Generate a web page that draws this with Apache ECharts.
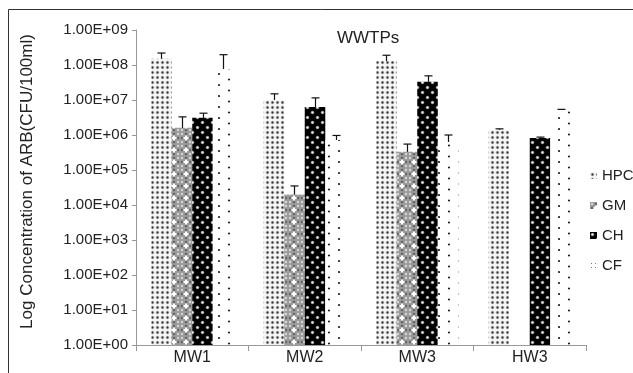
<!DOCTYPE html>
<html>
<head>
<meta charset="utf-8">
<script src="https://cdn.jsdelivr.net/npm/echarts@6/dist/echarts.min.js"></script>
<style>
  html, body { margin: 0; padding: 0; background: #fff; }
  #chart { width: 633px; height: 373px; }
</style>
</head>
<body>
<div id="chart"></div>
<script>
const categories = ['MW1', 'MW2', 'MW3', 'HW3'];
const seriesNames = ['HPC', 'GM', 'CH', 'CF'];

const hpc = [1.5e8, 1.0e7, 1.3e8, 1.4e6];
const hpcErr = [7e7, 5e6, 6e7, 1e5];
const gm = [1.6e6, 2.0e4, 3.3e5, null];
const gmErr = [1.7e6, 1.5e4, 2.2e5, null];
const ch = [3.1e6, 6.3e6, 3.3e7, 8.2e5];
const chErr = [1.1e6, 5.2e6, 1.6e7, 5e4];
const cf = [7.7e7, 7.2e5, 6.3e5, 5.2e6];
const cfErr = [1.2e8, 2.5e5, 3.7e5, 2e5];

const values = [hpc, gm, ch, cf];
const errors = [hpcErr, gmErr, chErr, cfErr];

// pattern tiles for the bar fills
function makeTile(w, h, draw) {
  const c = document.createElement('canvas');
  c.width = w; c.height = h;
  draw(c.getContext('2d'));
  return { image: c, repeat: 'repeat' };
}
function dot(ctx, x, y, r, color) {
  ctx.beginPath();
  ctx.arc(x, y, r, 0, Math.PI * 2);
  ctx.fillStyle = color;
  ctx.fill();
}

const patterns = [
  makeTile(5, 5, (ctx) => {
    ctx.fillStyle = '#f6f6f6'; ctx.fillRect(0, 0, 5, 5);
    dot(ctx, 2.5, 2.5, 1.7, '#aaa');
    dot(ctx, 2.5, 2.5, 0.9, '#333');
  }),
  makeTile(12, 12, (ctx) => {
    ctx.fillStyle = '#9a9a9a'; ctx.fillRect(0, 0, 12, 12);
    for (let i = 0; i < 3; i++) {
      for (let j = 0; j < 3; j++) {
        dot(ctx, i * 4 + 2, j * 4 + 2, 1.2, (i + j) % 2 ? '#666' : '#d6d6d6');
      }
    }
    ctx.fillStyle = '#fff';
    ctx.fillRect(5, 3.5, 2, 5);
    ctx.fillRect(3.5, 5, 5, 2);
  }),
  makeTile(10, 10, (ctx) => {
    ctx.fillStyle = '#000'; ctx.fillRect(0, 0, 10, 10);
    dot(ctx, 2.5, 2.5, 1.8, '#888');
    dot(ctx, 2.5, 2.5, 1.0, '#eee');
    dot(ctx, 7.5, 7.5, 1.8, '#888');
    dot(ctx, 7.5, 7.5, 1.0, '#eee');
  }),
  makeTile(20, 11, (ctx) => {
    ctx.fillStyle = '#fff'; ctx.fillRect(0, 0, 20, 11);
    dot(ctx, 9, 2.5, 1.1, '#222');
    dot(ctx, 19, 8, 1.1, '#222');
  })
];

// CF legend icon is too small for the sparse tile, use a finer one
const cfLegendFill = makeTile(4, 4, (ctx) => {
  ctx.fillStyle = '#fff'; ctx.fillRect(0, 0, 4, 4);
  ctx.fillStyle = '#777'; ctx.fillRect(1, 1, 1, 1);
});

const catGap = 0.27;

const barSeries = seriesNames.map((name, i) => ({
  name: name,
  type: 'bar',
  data: values[i].map((v) => (v == null ? '-' : v)),
  barGap: '0%',
  barCategoryGap: catGap * 100 + '%',
  itemStyle: { color: patterns[i] },
  emphasis: { disabled: true }
}));

const errSeries = seriesNames.map((name, i) => ({
  name: name + ' err',
  type: 'custom',
  z: 5,
  silent: true,
  data: values[i].map((v, k) => (v == null ? null : [k, v, v + errors[i][k]])),
  renderItem: function (params, api) {
    if (api.value(1) == null || isNaN(api.value(1))) return;
    const catW = api.size([1, 1])[0];
    const barW = catW * (1 - catGap) / 4;
    const base = api.coord([api.value(0), api.value(1)]);
    const top = api.coord([api.value(0), api.value(2)]);
    const x = Math.round(base[0] + (i - 1.5) * barW) + 0.5;
    const half = 4;
    return {
      type: 'group',
      children: [
        { type: 'line', shape: { x1: x, y1: base[1], x2: x, y2: top[1] }, style: { stroke: '#111', lineWidth: 1.2 } },
        { type: 'line', shape: { x1: x - half, y1: top[1], x2: x + half, y2: top[1] }, style: { stroke: '#111', lineWidth: 1.2 } }
      ]
    };
  }
}));

const chart = echarts.init(document.getElementById('chart'));

chart.setOption({
  animation: false,
  backgroundColor: '#fff',
  textStyle: { fontFamily: 'Liberation Sans, Arial, sans-serif' },
  title: {
    text: 'WWTPs',
    left: 332,
    top: 25,
    textStyle: { fontSize: 17, fontWeight: 'normal', color: '#222' }
  },
  legend: {
    data: seriesNames.map((n) => (n === 'CF' ? { name: n, itemStyle: { color: cfLegendFill } } : n)),
    orient: 'vertical',
    left: 585,
    top: 163,
    itemWidth: 7,
    itemHeight: 7,
    itemGap: 15,
    icon: 'rect',
    textStyle: { fontSize: 15, color: '#222', lineHeight: 15 }
  },
  graphic: [
    {
      type: 'rect',
      shape: { x: 8.5, y: 9.5, width: 700, height: 400 },
      style: { fill: 'none', stroke: '#333', lineWidth: 1 },
      z: -1
    }
  ],
  grid: { left: 136, right: 47, top: 30, bottom: 28 },
  xAxis: {
    type: 'category',
    data: categories,
    axisLine: { lineStyle: { color: '#999' } },
    axisTick: { show: true, length: 6, lineStyle: { color: '#999' } },
    axisLabel: { fontSize: 16, color: '#222', margin: 5 }
  },
  yAxis: {
    type: 'log',
    logBase: 10,
    min: 1,
    max: 1e9,
    name: 'Log Concentration of ARB(CFU/100ml)',
    nameLocation: 'middle',
    nameGap: 100,
    nameTextStyle: { fontSize: 17, color: '#222', padding: [0, 0, 0, 12] },
    axisLine: { show: true, lineStyle: { color: '#999' } },
    axisTick: { show: true, length: 4, lineStyle: { color: '#999' } },
    splitLine: { show: false },
    minorTick: { show: false },
    axisLabel: {
      fontSize: 15,
      color: '#222',
      margin: 8,
      formatter: function (v) {
        const e = Math.round(Math.log10(v));
        return '1.00E+' + (e < 10 ? '0' + e : e);
      }
    }
  },
  series: [...barSeries, ...errSeries]
});
</script>
</body>
</html>
